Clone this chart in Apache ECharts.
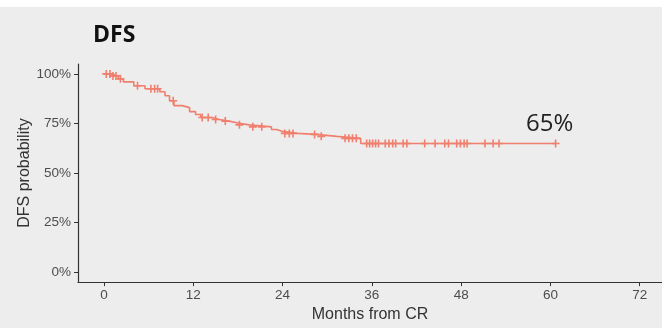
<!DOCTYPE html>
<html>
<head>
<meta charset="utf-8">
<script src="https://cdn.jsdelivr.net/npm/echarts@6/dist/echarts.min.js"></script>
<style>
  html, body { margin: 0; padding: 0; background: #ffffff; }
  #chart { width: 662px; height: 328px; }
</style>
</head>
<body>
<div id="chart"></div>
<script>
// Kaplan-Meier disease-free survival: event times (months) and survival after each event
const eventMonths = [0, 1.0, 1.9, 2.6, 4.0, 5.5, 7.5, 8.2, 8.8, 9.4, 10.5, 11.5, 12.3, 13.0, 14.5, 15.5, 16.8, 18.0, 19.5, 22.5, 23.2, 24.0, 26.0, 28.5, 31.3, 34.5];
const survival    = [1.0, 0.99, 0.975, 0.96, 0.94, 0.925, 0.91, 0.89, 0.865, 0.84, 0.83, 0.81, 0.795, 0.78, 0.77, 0.762, 0.752, 0.743, 0.733, 0.72, 0.71, 0.70, 0.695, 0.685, 0.675, 0.649];

// Censored follow-up times (months)
const censorMonths = [0.3, 0.8, 1.2, 1.6, 2.2, 4.5, 6.3, 6.8, 7.2, 9.3, 13.2, 14.0, 15.0, 16.3, 18.2, 20.0, 21.2,
  24.3, 24.9, 25.4, 28.3, 29.2, 32.4, 32.9, 33.4, 33.9, 35.3, 35.7, 36.1, 36.5, 36.9, 37.8, 38.3, 38.8, 39.2,
  40.2, 40.7, 43.1, 44.5, 45.8, 46.3, 47.4, 47.9, 48.4, 48.8, 51.2, 52.3, 53.1, 60.7];

const xTicks = [0, 12, 24, 36, 48, 60, 72];
const yTicks = [0, 0.25, 0.5, 0.75, 1];

const curveColor = '#F07F6E';

// survival value in effect at time t (step function)
function survAt(t) {
  let s = survival[0];
  for (let i = 0; i < eventMonths.length; i++) {
    if (eventMonths[i] <= t) s = survival[i];
  }
  return s;
}

const lastCensor = censorMonths[censorMonths.length - 1];
const curveData = eventMonths.map((m, i) => [m, survival[i]]);
curveData.push([lastCensor, survAt(lastCensor)]);

const censorData = censorMonths.map(m => [m, survAt(m)]);

const plusPath = 'path://M-0.8,-4 L0.8,-4 L0.8,-0.8 L4,-0.8 L4,0.8 L0.8,0.8 L0.8,4 L-0.8,4 L-0.8,0.8 L-4,0.8 L-4,-0.8 L-0.8,-0.8 Z';

const chart = echarts.init(document.getElementById('chart'));
const axisColor = '#333333';
const sansFont = "'Liberation Sans', Arial, sans-serif";
const tickLabelStyle = { color: '#4D4D4D', fontSize: 13.5, fontFamily: sansFont };

chart.setOption({
  backgroundColor: '#EDEDED',
  animation: false,
  graphic: [{
    type: 'rect', left: 0, top: 0, shape: { width: 662, height: 7 }, style: { fill: '#ffffff' }, z: 100
  }],
  title: {
    text: 'DFS',
    left: 88, top: 19,
    textStyle: { fontFamily: "'Open Sans', sans-serif", fontWeight: 'bold', fontSize: 23, color: '#111111' }
  },
  grid: { left: 78, right: 0, top: 64, bottom: 43 },
  xAxis: {
    type: 'value', min: -3.5, max: 75,
    name: 'Months from CR', nameLocation: 'middle', nameGap: 21,
    nameTextStyle: { color: '#333333', fontSize: 16, fontFamily: sansFont },
    axisLine: { onZero: false, lineStyle: { color: axisColor, width: 1.2 } },
    axisTick: { show: true, length: 4, customValues: xTicks, lineStyle: { color: axisColor } },
    axisLabel: { customValues: xTicks, margin: 6, ...tickLabelStyle },
    splitLine: { show: false }
  },
  yAxis: {
    type: 'value', min: -0.05, max: 1.05,
    name: 'DFS probability', nameLocation: 'middle', nameGap: 45, nameMoveOverlap: false,
    nameTextStyle: { color: '#333333', fontSize: 16, fontFamily: sansFont },
    axisLine: { show: true, onZero: false, lineStyle: { color: axisColor, width: 1.2 } },
    axisTick: { show: true, length: 4, customValues: yTicks, lineStyle: { color: axisColor } },
    axisLabel: { customValues: yTicks, margin: 7, formatter: v => Math.round(v * 100) + '%', ...tickLabelStyle },
    splitLine: { show: false }
  },
  series: [
    {
      type: 'line', step: 'end', data: curveData, showSymbol: false, symbol: 'none',
      lineStyle: { color: curveColor, width: 1.6 }
    },
    {
      type: 'scatter', data: censorData, symbol: plusPath, symbolSize: 8,
      itemStyle: { color: curveColor, opacity: 1 },
      label: {
        show: true,
        formatter: p => (p.dataIndex === censorData.length - 1) ? Math.round(p.value[1] * 100) + '%' : '',
        position: 'top', offset: [-6, 2],
        fontSize: 24, color: '#222222', fontFamily: "'Open Sans', sans-serif"
      }
    }
  ]
});
</script>
</body>
</html>
